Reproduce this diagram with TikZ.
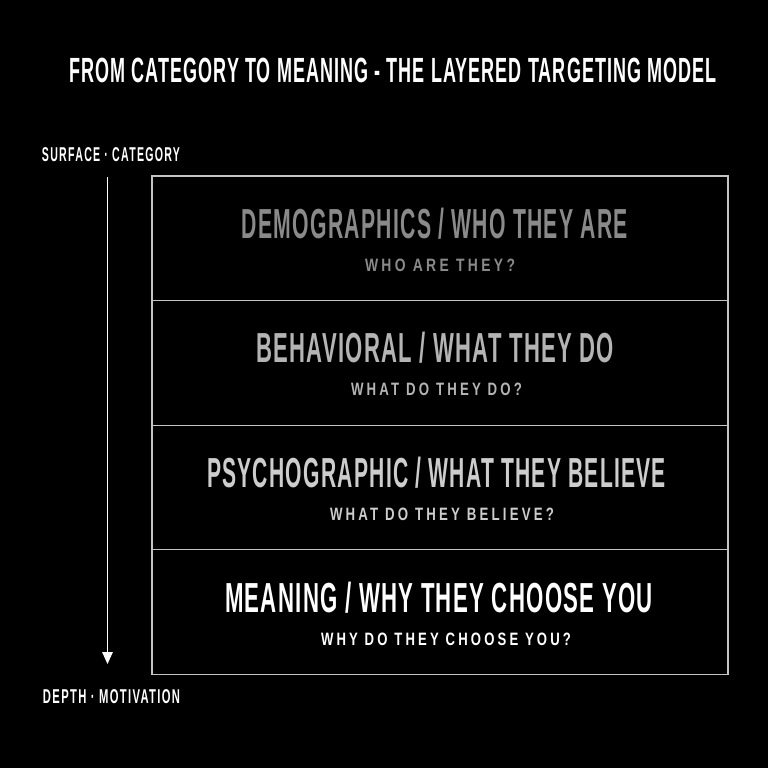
\documentclass[tikz,border=0pt]{standalone}
\usepackage{fontspec}
\setmainfont{Liberation Sans}
\newfontfamily\cond[LetterSpace=6]{Liberation Sans}
\newfontfamily\condsp[LetterSpace=24]{Liberation Sans}
\newfontfamily\condlb[LetterSpace=12]{Liberation Sans}
\usetikzlibrary{arrows.meta}
\newcommand{\fitw}[4]{\resizebox{#1pt}{\height}{\fontsize{#2}{#2}\selectfont#3#4}}
\definecolor{lay1}{HTML}{8A8A8A}
\definecolor{lay2}{HTML}{B4B4B4}
\definecolor{lay3}{HTML}{CDCDCD}
\definecolor{lay4}{HTML}{FFFFFF}
\definecolor{rule}{HTML}{C4C4C4}
\tikzset{
  layer/.style={draw=rule, line width=1.2pt, minimum width=576pt, minimum height=124.6pt, inner sep=0pt},
  txt/.style={anchor=base, inner sep=0pt, outer sep=0pt},
}
\begin{document}
\begin{tikzpicture}[x=1pt,y=-1pt]
\fill[black] (0,0) rectangle (768,768);
\useasboundingbox (0,0) rectangle (768,768);
% title
\node[txt, text=white] (title) at (393,82) {\fitw{648}{35}{\cond\bfseries}{FROM CATEGORY TO MEANING - THE LAYERED TARGETING MODEL}};
% layers
\node[layer] (r1) at (440,238.3) {};
\node[layer] (r2) at (440,362.9) {};
\node[layer] (r3) at (440,487.5) {};
\node[layer] (r4) at (440,612.1) {};
% layer texts
\node[txt, text=lay1] (t1) at (435,238.3) {\fitw{386}{42}{\cond\bfseries}{DEMOGRAPHICS / WHO THEY ARE}};
\node[txt, text=lay1] (s1) at (440,271) {\fitw{150}{17.9}{\condsp\bfseries}{WHO ARE THEY?}};
\node[txt, text=lay2] (t2) at (435,362.9) {\fitw{358}{42}{\cond\bfseries}{BEHAVIORAL / WHAT THEY DO}};
\node[txt, text=lay2] (s2) at (436.5,395.6) {\fitw{171}{17.9}{\condsp\bfseries}{WHAT DO THEY DO?}};
\node[txt, text=lay3] (t3) at (436.5,487.5) {\fitw{459}{42}{\cond\bfseries}{PSYCHOGRAPHIC / WHAT THEY BELIEVE}};
\node[txt, text=lay3] (s3) at (442,520.2) {\fitw{224}{17.9}{\condsp\bfseries}{WHAT DO THEY BELIEVE?}};
\node[txt, text=lay4] (t4) at (439,612.8) {\fitw{428}{42}{\cond\bfseries}{MEANING / WHY THEY CHOOSE YOU}};
\node[txt, text=lay4] (s4) at (446,645) {\fitw{250}{17.9}{\condsp\bfseries}{WHY DO THEY CHOOSE YOU?}};
% side labels
\node[txt, text=white] (top) at (111,161.7) {\fitw{138}{20}{\condlb\bfseries}{SURFACE · CATEGORY}};
\node[txt, text=white] (bot) at (111.5,703.3) {\fitw{137}{20}{\condlb\bfseries}{DEPTH · MOTIVATION}};
% arrow
\coordinate (atop) at (107.5,177);
\coordinate (abot) at (107.5,664);
\draw[white, line width=1.5pt, -{Triangle[width=10.5pt,length=12pt]}] (atop) -- (abot);
\end{tikzpicture}
\end{document}
